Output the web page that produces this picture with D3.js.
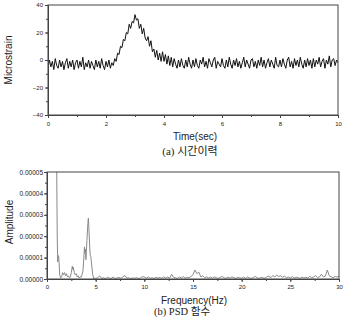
<!DOCTYPE html>
<html>
<head>
<meta charset="utf-8">
<script src="https://cdn.jsdelivr.net/npm/d3@7"></script>
<style>
  body { margin: 0; background: #fff; }
  svg text { font-family: "Liberation Sans", Arial, sans-serif; fill: #222; }
</style>
</head>
<body>
<svg id="chart" width="349" height="318"></svg>
<script>
// (a) time history, sampled every 0.05 s from 0 to 10 s
const sampleStep = 0.05;
const strain = [
  -6,0,-5,-1,-7,1,-4,-6,0,-5,-1,-7,-2,1,-6,-1,-5,0,-7,-2,
  0,-6,-1,-5,2,-7,-2,-5,0,-6,-1,-4,-7,0,-5,-1,-6,1,-4,-7,
  -1,-5,0,-6,-2,-4,1,-1,5,4,10,9,15,14,20,19,26,23,28,27,
  33,29,30,23,26,19,23,16,14,17,10,14,6,8,2,7,0,5,-1,6,
  -1,4,-3,3,-4,2,-5,1,-3,-6,0,-5,1,-4,-6,0,-5,2,-3,-6,
  0,-5,1,-4,-6,0,-3,2,-5,-1,-6,1,-2,-5,0,2,-6,-1,-3,-5,
  1,-4,-6,0,-5,2,-3,-6,0,-4,1,-5,-1,-6,-2,2,-5,0,-3,-6,
  0,1,-5,-1,-6,0,-4,2,-5,0,-6,-2,1,-5,0,-3,-6,2,-4,-5,
  0,-5,1,-3,-6,0,2,-5,-1,-6,1,-4,0,-5,2,-3,-6,0,-5,1,
  -4,0,-6,1,-5,0,-3,2,-5,-1,1,-6,0,-3,3,-5,0,1,-4,0,
  -2
];
const timeTicks = [0, 2, 4, 6, 8, 10];
const strainTicks = [40, 20, 0, -20, -40];

// (b) PSD, amplitude in units of 1e-6
const lowFreq = [0.5,0.8,0.95,1.0,1.05,1.1,1.15,1.2,1.25,1.3,1.4,1.5,1.6,1.7,1.8,1.9,2.0,2.1,2.2,2.3,2.4,2.5,2.6,2.65,2.7,2.8,2.9,3.0,3.1,3.2,3.3,3.4,3.5,3.6,3.7,3.8,3.85,3.9,3.95,4.0,4.1,4.2,4.25,4.3,4.4,4.45,4.5,4.6,4.7,4.8,4.9,5.0];
const lowAmp = [500,300,120,50,20,8,11,10.5,7,2,0.5,1,3,2,3,1.5,2.5,1,1.5,0.5,1,3,6,4.5,5.5,3,2,2.5,1,1.5,0.5,1,0.8,2,4,11,15,12,14,9,18,26,28.5,24,14,11,10.5,6,2,0.3,0.5,0.2];
// from 5.2 Hz to 30 Hz, every 0.2 Hz
const highStart = 5.2, highStep = 0.2;
const highAmp = [
  0.5,1.5,0.3,0.6,0.2,0.8,0.4,0.3,0.9,
  0.2,0.5,0.7,0.3,1.0,1.6,0.4,0.6,0.2,0.5,
  0.3,0.7,0.2,0.5,1.1,0.9,0.4,1.0,0.3,0.6,
  0.2,0.8,0.4,0.7,0.3,1.0,0.5,0.9,0.4,2.2,
  0.8,0.6,0.3,0.9,0.5,1.1,0.4,0.8,0.6,1.2,
  2.0,4.2,2.5,3.2,1.0,1.4,0.6,1.0,0.5,0.8,
  0.4,1.0,0.6,0.3,0.8,1.2,0.5,0.3,0.9,0.4,
  1.0,0.6,0.3,0.8,0.5,0.4,0.8,0.3,1.0,0.5,
  0.3,0.7,1.2,0.5,0.3,0.8,0.5,0.4,1.0,1.3,
  0.6,1.6,1.0,1.8,1.2,1.5,0.8,1.3,0.6,0.9,
  0.5,1.1,0.4,0.8,0.6,0.3,0.9,0.5,0.8,0.4,
  1.2,0.6,0.9,1.6,0.7,1.0,2.2,1.0,1.4,4.2,
  1.5,1.0,0.6,1.2,0.9,1.3
];
const freqTicks = [0, 5, 10, 15, 20, 25, 30];
const ampTicks = [0, 10, 20, 30, 40, 50];
const ampTickLabels = ["0.00000","0.00001","0.00002","0.00003","0.00004","0.00005"];

const svg = d3.select("#chart");

function frame(g, x, y, w, h) {
  g.append("rect").attr("x", x).attr("y", y).attr("width", w).attr("height", h)
    .attr("fill", "none").attr("stroke", "#444").attr("stroke-width", 1);
}

// ---------- (a) ----------
const xA = d3.scaleLinear().domain([0, 10]).range([48, 338]);
const yA = d3.scaleLinear().domain([-40, 40]).range([115, 5]);
const gA = svg.append("g");

gA.append("defs").append("clipPath").attr("id", "clipA")
  .append("rect").attr("x", 48).attr("y", 5).attr("width", 290).attr("height", 110);

gA.append("path")
  .datum(strain)
  .attr("clip-path", "url(#clipA)")
  .attr("fill", "none").attr("stroke", "#111").attr("stroke-width", 1)
  .attr("d", d3.line().x((d, i) => xA(i * sampleStep)).y(d => yA(d)));

gA.append("g").attr("transform", "translate(0,115)")
  .call(d3.axisBottom(xA).tickValues(d3.range(0, 10.01, 1)).tickSize(2).tickFormat(""));
gA.append("g").attr("transform", "translate(0,115)")
  .call(d3.axisBottom(xA).tickValues(timeTicks).tickSize(3).tickPadding(4).tickFormat(d3.format("d")))
  .call(a => a.selectAll("text").style("font-size", "6px"));
gA.append("g").attr("transform", "translate(48,0)")
  .call(d3.axisLeft(yA).tickValues(d3.range(-40, 41, 10)).tickSize(2).tickFormat(""));
gA.append("g").attr("transform", "translate(48,0)")
  .call(d3.axisLeft(yA).tickValues(strainTicks).tickSize(3).tickPadding(2).tickFormat(d3.format("d")))
  .call(a => a.selectAll("text").style("font-size", "6px"));
frame(gA, 48, 5, 290, 110);

gA.append("text").attr("transform", "translate(12,60) rotate(-90)")
  .attr("text-anchor", "middle").style("font-size", "10px").text("Microstrain");
gA.append("text").attr("x", 195).attr("y", 140)
  .attr("text-anchor", "middle").style("font-size", "10px").text("Time(sec)");
gA.append("text").attr("x", 190).attr("y", 155)
  .attr("text-anchor", "middle")
  .style("font-family", "'Liberation Serif', 'Noto Sans CJK KR', serif")
  .style("font-size", "11px").text("(a) 시간이력");

// ---------- (b) ----------
const psd = lowFreq.map((f, i) => [f, lowAmp[i]])
  .concat(highAmp.map((a, i) => [highStart + i * highStep, a]));
const xB = d3.scaleLinear().domain([0, 30]).range([47, 339]);
const yB = d3.scaleLinear().domain([0, 50]).range([279, 172]);
const gB = svg.append("g");

gB.append("defs").append("clipPath").attr("id", "clipB")
  .append("rect").attr("x", 47).attr("y", 172).attr("width", 292).attr("height", 107);

gB.append("path")
  .datum(psd)
  .attr("clip-path", "url(#clipB)")
  .attr("fill", "none").attr("stroke", "#8a8a8a").attr("stroke-width", 1)
  .attr("d", d3.line().x(d => xB(d[0])).y(d => yB(d[1])));

gB.append("g").attr("transform", "translate(0,279)")
  .call(d3.axisBottom(xB).tickValues(d3.range(0, 30.1, 2.5)).tickSize(2).tickFormat(""));
gB.append("g").attr("transform", "translate(0,279)")
  .call(d3.axisBottom(xB).tickValues(freqTicks).tickSize(3).tickPadding(3).tickFormat(d3.format("d")))
  .call(a => a.selectAll("text").style("font-size", "6px"));
gB.append("g").attr("transform", "translate(47,0)")
  .call(d3.axisLeft(yB).tickValues(d3.range(0, 51, 5)).tickSize(2).tickFormat(""));
gB.append("g").attr("transform", "translate(47,0)")
  .call(d3.axisLeft(yB).tickValues(ampTicks).tickSize(3).tickPadding(1)
    .tickFormat((d, i) => ampTickLabels[i]))
  .call(a => a.selectAll("text").style("font-size", "6.5px"));
frame(gB, 47, 172, 292, 107);

gB.append("text").attr("transform", "translate(13,222) rotate(-90)")
  .attr("text-anchor", "middle").style("font-size", "10px").text("Amplitude");
gB.append("text").attr("x", 194).attr("y", 304)
  .attr("text-anchor", "middle").style("font-size", "10px").text("Frequency(Hz)");
gB.append("text").attr("x", 154).attr("y", 315)
  .style("font-family", "'Liberation Serif', 'Noto Sans CJK KR', serif")
  .style("font-size", "10.5px").text("(b) PSD 함수");

svg.selectAll(".domain").attr("stroke", "#444");
svg.selectAll(".tick line").attr("stroke", "#444");
</script>
</body>
</html>
